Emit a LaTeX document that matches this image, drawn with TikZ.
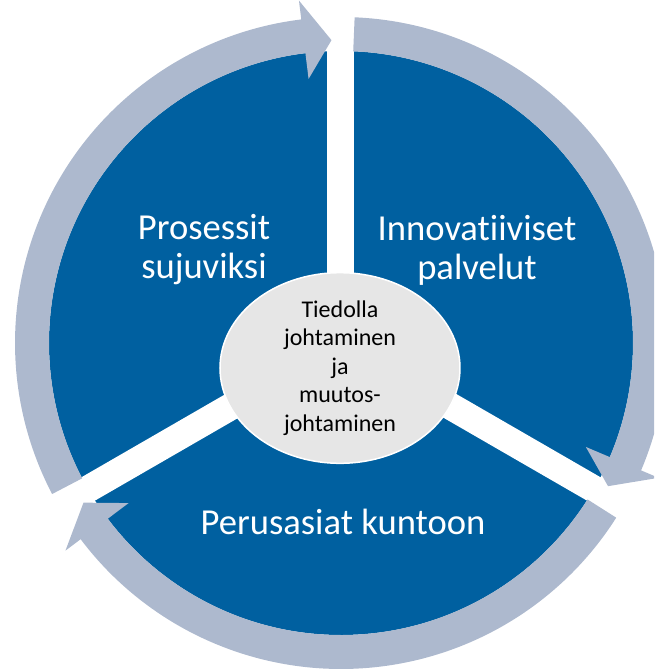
\documentclass[tikz,border=0pt]{standalone}
\usepackage{fontspec}
\setmainfont{Carlito}[Ligatures={NoCommon,NoContextual},Contextuals=NoAlternate]
\usepackage{xcolor}
\usepackage{tikz}
\usetikzlibrary{positioning,shapes}
\definecolor{segblue}{HTML}{0060A0}
\definecolor{ringgray}{HTML}{ADB9CE}
\definecolor{midgray}{HTML}{E6E6E6}

\begin{document}
\begin{tikzpicture}[x=1pt,y=1pt,
  seg/.style={white,font=\fontsize{36.6}{39}\selectfont,align=center},
  gapline/.style={white,line width=27pt}]
\clip (-341,-327) rectangle (313,343);
\coordinate (c) at (0,0);
\fill[segblue] (c) circle (292);
\coordinate (g1) at (90:300);
\coordinate (g2) at (210:300);
\coordinate (g3) at (330:300);
\draw[gapline] (c) -- (g1);
\draw[gapline] (c) -- (g2);
\draw[gapline] (c) -- (g3);
\foreach \h in {90,-30,-150}
  \fill[ringgray] ({\h+117.6}:326) arc[start angle={\h+117.6}, end angle={\h+7}, radius=326] -- ({\h+7}:345) -- ({\h+1.8}:303) -- ({\h+7}:266) -- ({\h+7}:292) arc[start angle={\h+7}, end angle={\h+117.6}, radius=292] -- cycle;
\node[ellipse, fill=midgray, draw=white, line width=1.5pt, minimum width=240pt, minimum height=190pt, inner sep=0pt, align=center, font=\fontsize{24}{28.5}\selectfont] (mid) at (-1,-25) {Tiedolla\\johtaminen\\ja\\muutos-\\johtaminen};
\node[seg] (pros) at (-137,93) {Prosessit\\sujuviksi};
\node[seg] (inno) at (136,93) {Innovatiiviset\\palvelut};
\node[seg, anchor=base] (perus) at (2,-191) {Perusasiat kuntoon};
\end{tikzpicture}
\end{document}
